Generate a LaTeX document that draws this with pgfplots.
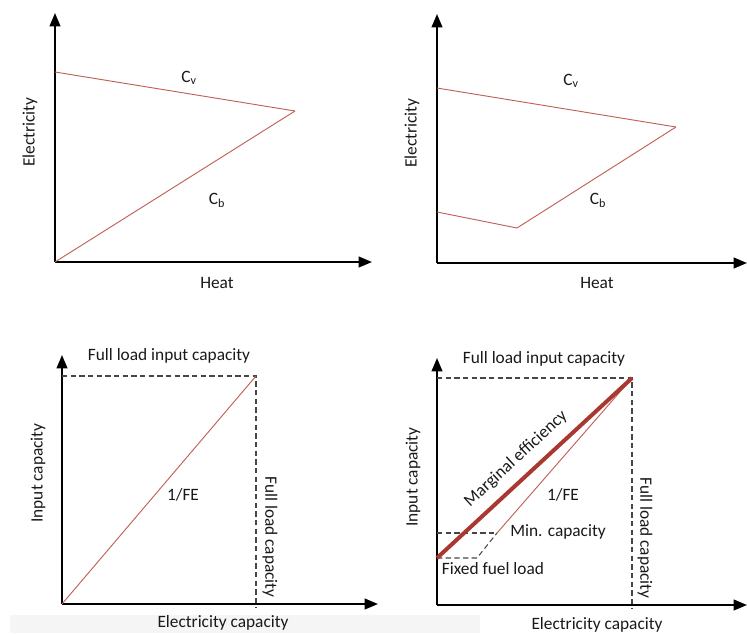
\documentclass[border=0pt]{standalone}
\usepackage{fontspec}
\setmainfont{Carlito}
\usepackage{pgfplots}
\pgfplotsset{compat=1.18}
\usetikzlibrary{arrows.meta}
\definecolor{thinred}{RGB}{192,96,88}
\definecolor{thickred}{RGB}{168,56,48}
\definecolor{dashgrey}{RGB}{70,70,70}
\tikzset{lab/.style={font=\fontsize{13}{15}\selectfont, text=black!90, inner sep=1pt}}
\pgfplotsset{
 sketch/.style={
  axis lines=left, xtick=\empty, ytick=\empty,
  xmin=0, ymin=0, clip=false, anchor=origin,
  x=0.75pt, y=0.75pt,
  axis line style={line width=1.5pt, -{Triangle[length=10pt,width=8pt]}},
 },
 dashln/.style={dashgrey, line width=0.8pt, dash pattern=on 4pt off 2.5pt},
}
\begin{document}
\fontsize{13}{15}\selectfont
\begin{tikzpicture}
\useasboundingbox (0pt,0pt) rectangle (560.25pt,-474.75pt);
\fill[black!4] (7.5pt,-461.25pt) rectangle (360pt,-474.75pt);

% Panel 1
\begin{axis}[sketch, at={(41.25pt,-196.5pt)}, xmax=317, ymax=249]
\addplot[thinred, line width=0.7pt] coordinates {(0,190) (240,151)};
\addplot[thinred, line width=0.7pt] coordinates {(0,0) (240,151)};
\node[lab] at (axis cs:134,184) {C\textsubscript{v}};
\node[lab] at (axis cs:162,62) {C\textsubscript{b}};
\node[lab] at (axis cs:162,-21) {Heat};
\node[lab,rotate=90] at (axis cs:-25,130) {Electricity};
\end{axis}

% Panel 2
\begin{axis}[sketch, at={(327.75pt,-197.25pt)}, xmax=310, ymax=249]
\addplot[thinred, line width=0.7pt] coordinates {(0,175) (239,136)};
\addplot[thinred, line width=0.7pt] coordinates {(0,51) (80,35) (239,136)};
\node[lab] at (axis cs:134,182) {C\textsubscript{v}};
\node[lab] at (axis cs:161,63) {C\textsubscript{b}};
\node[lab] at (axis cs:160,-20) {Heat};
\node[lab,rotate=90] at (axis cs:-25,130) {Electricity};
\end{axis}

% Panel 3
\begin{axis}[sketch, at={(46.5pt,-453pt)}, xmax=316, ymax=249]
\addplot[dashln] coordinates {(0,228) (194,228) (194,-4)};
\addplot[thinred, line width=0.7pt] coordinates {(0,0) (194,228)};
\node[lab] at (axis cs:107,248) {Full load input capacity};
\node[lab] at (axis cs:121,109) {1/FE};
\node[lab,rotate=-90] at (axis cs:208,67) {Full load capacity};
\node[lab] at (axis cs:161,-19) {Electricity capacity};
\node[lab,rotate=90] at (axis cs:-24,131) {Input capacity};
\end{axis}

% Panel 4
\begin{axis}[sketch, at={(327.75pt,-453.75pt)}, xmax=310, ymax=247]
\addplot[dashln] coordinates {(0,227) (195,227) (195,-4)};
\addplot[dashln] coordinates {(0,72) (60,72)};
\addplot[dashln] coordinates {(0,47) (40,47) (60,72)};
\addplot[thinred, line width=0.7pt] coordinates {(60,72) (195,227)};
\addplot[thickred, line width=3pt] coordinates {(0,47) (195,227)};
\node[lab] at (axis cs:107,246) {Full load input capacity};
\node[lab,rotate=42.7] at (axis cs:79,146) {Marginal efficiency};
\node[lab] at (axis cs:126,110) {1/FE};
\node[lab] at (axis cs:121,73) {Min. capacity};
\node[lab] at (axis cs:56,36) {Fixed fuel load};
\node[lab,rotate=-90] at (axis cs:208,67) {Full load capacity};
\node[lab] at (axis cs:160,-20) {Electricity capacity};
\node[lab,rotate=90] at (axis cs:-24,128) {Input capacity};
\end{axis}
\end{tikzpicture}
\end{document}
